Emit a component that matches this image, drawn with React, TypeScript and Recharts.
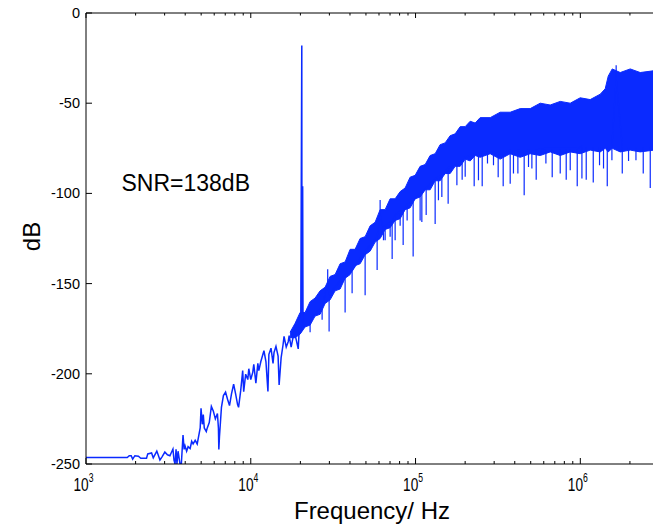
import { ComposedChart, Line, Area, XAxis, YAxis } from 'recharts'

// low-frequency part of the trace (Hz, dB), incl. the 20 kHz tone
const lowFreq = [
  1000, 1780, 1830, 1880, 1920, 1980, 2080, 2150, 2330, 2370, 2500, 2560, 2690, 2740, 2810, 2900,
  3010, 3120, 3230, 3370, 3420, 3470, 3520, 3565, 3620, 3720, 3790, 3880, 3940, 3990, 4080, 4165,
  4285, 4380, 4467, 4598, 4730, 4797, 4932, 4990, 5080, 5150, 5222, 5370, 5445, 5598, 5765, 5929,
  6095, 6274, 6363, 6400, 6455, 6637, 6823, 7031, 7228, 7430, 7638, 7870, 8090, 8318, 8433, 8690,
  8933, 9057, 9311, 9594, 9727, 10000, 10280, 10430, 10740, 11040, 11190, 11510, 12020, 12360, 12710, 12880,
  13270, 13650, 13840, 14220, 14650, 14860, 15280, 15700, 15920, 16410, 16870, 17100, 17580, 18370, 18880, 19410,
  19680, 20100, 20400, 20450, 20650, 20750, 21200,
]
const lowDb = [
  -246.4, -246.4, -245.4, -245.4, -247.3, -245.4, -245.7, -246.8, -246.8, -244.4, -243.9, -246.6, -242.9, -244.9, -247.8, -245.9,
  -243.4, -244.9, -245.4, -241.7, -247.8, -250, -241.9, -250, -242.9, -250, -250, -233.9, -241.9, -239.9, -242.9, -240.4,
  -241.4, -237.4, -238.9, -236.9, -238.9, -235.9, -230, -219.1, -228, -222.6, -230, -232, -230, -227, -218.1, -220.8,
  -225, -222, -230, -242, -235, -218.6, -212.1, -210.2, -214.1, -217.6, -211.1, -205.8, -211.1, -217.1, -218.6, -209.2,
  -198.2, -209.9, -200.2, -203.2, -197.2, -203.2, -199.2, -194.8, -205.2, -194.2, -198.2, -193.2, -187.2, -193.2, -209.8, -189.2,
  -185.8, -194.2, -188.2, -184.8, -190.2, -206.2, -191.2, -183.9, -179.3, -185.2, -182.2, -178.9, -185.2, -176.3, -181.2, -186.2,
  -175.3, -177, -18, -170, -96, -172, -174,
]

// noise band envelope above ~17 kHz
const bandFreq = [
  17320, 18580, 19930, 21370, 22910, 24570, 26350, 28260, 30300, 32500, 34850, 37370, 40080, 42980, 46090, 49430,
  53010, 56850, 60960, 65380, 70110, 75180, 80630, 86460, 92720, 99440, 106600, 114400, 122600, 131500, 141000, 151200,
  162200, 173900, 186600, 200100, 214600, 230100, 246700, 283800, 326300, 375300, 431700, 496400, 570900, 656700, 755100, 868400,
  998600, 1148000, 1321000, 1416000, 1477000, 1562000, 1747000, 2009000, 2310000, 2800000,
]
const bandHigh = [
  -177, -172, -166, -166, -160, -158, -154, -152, -146, -145, -139, -138, -131, -131, -125, -124,
  -118, -116, -109, -109, -103, -103, -99, -97, -91, -90, -85, -84, -79, -78, -73, -72,
  -68, -67, -63, -63, -60, -61, -58, -58, -55, -55, -53, -53, -50, -51, -49, -50,
  -47, -48, -45, -42, -35, -31, -33, -31, -33, -32,
]
const bandLow = [
  -180, -180, -178, -174, -173, -168, -167, -161, -159, -154, -153, -147, -145, -140, -139, -134,
  -132, -127, -125, -120, -119, -115, -114, -109, -108, -103, -102, -98, -98, -93, -93, -89,
  -89, -85, -85, -81, -82, -79, -80, -78, -81, -78, -80, -78, -79, -77, -79, -77,
  -78, -76, -77, -75, -77, -75, -77, -76, -77, -76,
]

// single-bin spikes sticking out of the band
const spikeFreq = [
  22910, 27100, 29300, 29880, 37370, 41210, 49430, 58460, 60960, 63870, 65380, 70110, 72110, 75180, 80630, 84100,
  88900, 96700, 106600, 109200, 116000, 131500, 137700, 144400, 157700, 178200, 191800, 200100, 226900, 240900, 253800, 273300,
  297200, 317300, 340300, 375300, 392900, 417900, 456300, 484800, 508200, 539800, 618200, 675100, 755100, 821100, 868400, 957700,
  1022600, 1086000, 1198000, 1308000, 1383000, 1457000, 1555000, 1650000, 1797000, 1962000, 2176000, 2409000, 2657000,
]
const spikeBase = [
  -170, -163, -150, -156, -145, -143, -132, -124, -112, -120, -118, -116, -116, -112, -110, -110,
  -106, -104, -100, -100, -97, -92, -91, -90, -86, -84, -82, -80, -78, -78, -77, -77,
  -77, -78, -78, -76, -76, -76, -77, -76, -76, -76, -75, -75, -75, -75, -75, -75,
  -74, -74, -74, -74, -74, -74, -74, -36, -74, -74, -74, -74, -74,
]
const spikeTip = [
  -177, -170, -142, -176.5, -166, -155.4, -156.5, -142.5, -103.6, -126, -126, -124, -136.4, -126, -118, -128.6,
  -115, -135, -115, -115.8, -112, -117, -103.8, -102, -105.8, -95.5, -92.4, -90.8, -96, -92.7, -96, -83.4,
  -84.4, -91, -96, -94.6, -89, -89, -101, -85.3, -86.2, -92.4, -83.4, -91, -89, -92.4, -87.1, -96,
  -91.7, -92.4, -94, -84.4, -86.2, -96, -81.6, -29, -89, -82, -81.6, -89, -97,
]

const xTicks = [
  1000, 2000, 3000, 4000, 5000, 6000, 7000, 8000, 9000,
  10000, 20000, 30000, 40000, 50000, 60000, 70000, 80000, 90000,
  100000, 200000, 300000, 400000, 500000, 600000, 700000, 800000, 900000,
  1000000, 2000000,
]
const xMajor = [1000, 10000, 100000, 1000000]
const xExp = ['3', '4', '5', '6']
const yTicks = [-250, -200, -150, -100, -50, 0]

const lowData = lowFreq.map((f, i) => ({ f, db: lowDb[i] }))
const bandData = bandFreq.map((f, i) => ({ f, range: [bandLow[i], bandHigh[i]] }))
const spikeData = spikeFreq.flatMap((f, i) => [
  { f, db: spikeBase[i] },
  { f, db: spikeTip[i] },
  { f, db: spikeBase[i] },
])

const BLUE = '#0a2aff'
const FONT = '"Liberation Sans", Arial, Helvetica, sans-serif'

function BottomTick(props: any) {
  const { x, y, payload } = props
  const i = xMajor.indexOf(payload.value)
  return (
    <g>
      <line x1={x} y1={y} x2={x} y2={y - (i >= 0 ? 6 : 3)} stroke="#000" />
      {i >= 0 && (
        <text transform={`translate(${x - 12.5},${y + 27}) scale(0.72,1)`} fontSize={19} fontFamily={FONT} fill="#000">
          10<tspan fontSize={12} dy={-9.5}>{xExp[i]}</tspan>
        </text>
      )}
    </g>
  )
}

function TopTick(props: any) {
  const { x, y, payload } = props
  const major = xMajor.includes(payload.value)
  return <line x1={x} y1={y} x2={x} y2={y + (major ? 5 : 2.5)} stroke="#000" />
}

function LeftTick(props: any) {
  const { x, y, payload } = props
  return (
    <g>
      <line x1={x} y1={y} x2={x + 6} y2={y} stroke="#000" />
      <text x={x - 6} y={y + 5} textAnchor="end" fontSize={14.5} fontFamily={FONT} fill="#000">
        {payload.value}
      </text>
    </g>
  )
}

export default function App() {
  return (
    <div style={{ position: 'absolute', left: 0, top: 0, width: 653, height: 531, overflow: 'hidden', background: '#fff' }}>
      <ComposedChart width={660} height={531} margin={{ top: 0, right: 6, bottom: 0, left: 0 }}>
        <XAxis
          xAxisId="b"
          type="number"
          dataKey="f"
          scale="log"
          domain={[1000, 2800000]}
          allowDataOverflow
          ticks={xTicks}
          interval={0}
          height={67}
          tickSize={0}
          tickMargin={0}
          tick={<BottomTick />}
          axisLine={{ stroke: '#000' }}
        />
        <XAxis
          xAxisId="t"
          orientation="top"
          type="number"
          dataKey="f"
          scale="log"
          domain={[1000, 2800000]}
          allowDataOverflow
          ticks={xTicks}
          interval={0}
          height={13}
          tickSize={0}
          tickMargin={0}
          tick={<TopTick />}
          axisLine={{ stroke: '#000' }}
        />
        <YAxis
          type="number"
          domain={[-250, 0]}
          allowDataOverflow
          ticks={yTicks}
          interval={0}
          width={86}
          tickSize={0}
          tickMargin={0}
          tick={<LeftTick />}
          axisLine={{ stroke: '#000' }}
        />
        <Area
          xAxisId="b"
          data={bandData}
          dataKey="range"
          type="linear"
          stroke={BLUE}
          strokeWidth={1}
          fill={BLUE}
          fillOpacity={1}
          dot={false}
          activeDot={false}
          isAnimationActive={false}
        />
        <Line
          xAxisId="t"
          data={bandData}
          dataKey={() => null}
          stroke="none"
          dot={false}
          legendType="none"
          isAnimationActive={false}
        />
        <Line
          xAxisId="b"
          data={spikeData}
          dataKey="db"
          type="linear"
          stroke={BLUE}
          strokeWidth={1.2}
          dot={false}
          isAnimationActive={false}
        />
        <Line
          xAxisId="b"
          data={lowData}
          dataKey="db"
          type="linear"
          stroke={BLUE}
          strokeWidth={1.5}
          dot={false}
          isAnimationActive={false}
        />
      </ComposedChart>
      <svg width={653} height={531} style={{ position: 'absolute', left: 0, top: 0, pointerEvents: 'none' }}>
        <text x={121.5} y={191} fontSize={23} fontFamily={FONT} fill="#000">SNR=138dB</text>
        <text x={372} y={519} textAnchor="middle" fontSize={24} fontFamily={FONT} fill="#000">Frequency/ Hz</text>
        <text transform="translate(40,236.5) rotate(-90)" textAnchor="middle" fontSize={24} fontFamily={FONT} fill="#000">dB</text>
      </svg>
    </div>
  )
}
